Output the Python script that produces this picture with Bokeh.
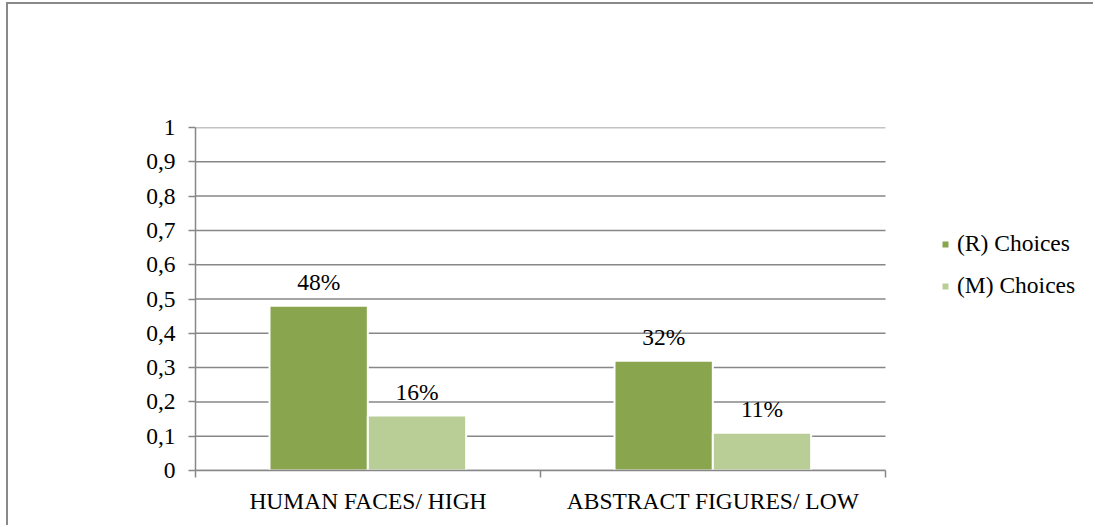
import numpy as np
from bokeh.plotting import figure
from bokeh.models import (ColumnDataSource, FixedTicker, Legend, LegendItem,
                          LabelSet, Range1d)
from bokeh.embed import file_html
from bokeh.resources import INLINE

# Data
categories = ["HUMAN FACES/ HIGH", "ABSTRACT FIGURES/ LOW"]
series_names = ["(R) Choices", "(M) Choices"]
r_choices = [0.48, 0.32]
m_choices = [0.16, 0.11]
y_ticks = [0, 0.1, 0.2, 0.3, 0.4, 0.5, 0.6, 0.7, 0.8, 0.9, 1]
y_tick_labels = ["0", "0,1", "0,2", "0,3", "0,4", "0,5", "0,6", "0,7", "0,8", "0,9", "1"]

colors = ["#89A54E", "#B9CE96"]
grid_color = "#878787"
font = "Liberation Serif, Times New Roman, serif"
fsize = "23.5px"

bar_width = 0.285
offsets = [-0.143, 0.142]
n_cat = len(categories)

# The frame runs to the right edge so the legend sits inside it;
# the category axis and the gridlines stop at the last category.
x_end = n_cat + 210 / 345

p = figure(width=1087, height=523, output_backend="svg", toolbar_location=None,
           x_range=Range1d(0, x_end), y_range=Range1d(0, 1),
           min_border_left=187, min_border_right=0,
           min_border_top=123, min_border_bottom=57,
           styles={"margin-left": "6px", "margin-top": "2px",
                   "border-left": "2px solid #898989",
                   "border-top": "2px solid #898989"})
p.outline_line_color = None
p.background_fill_color = "white"
p.border_fill_color = "white"

# Horizontal gridlines limited to the category span
p.segment(x0=[0] * len(y_ticks), x1=[n_cat] * len(y_ticks), y0=y_ticks, y1=y_ticks,
          line_color=grid_color, line_width=1.5)

centers = np.arange(n_cat) + 0.5
renderers = []
for name, vals, off, col in zip(series_names, [r_choices, m_choices], offsets, colors):
    src = ColumnDataSource(dict(
        x=centers + off,
        top=vals,
        label=[f"{round(v * 100)}%" for v in vals],
    ))
    r = p.vbar(x="x", top="top", width=bar_width, source=src,
               fill_color=col, line_color="white", line_width=2)
    renderers.append(r)
    p.add_layout(LabelSet(x="x", y="top", text="label", source=src,
                          text_align="center", text_baseline="middle",
                          y_offset=24, text_font=font, text_font_size=fsize,
                          text_color="black"))

# Y axis
p.yaxis.ticker = FixedTicker(ticks=y_ticks)
p.yaxis.major_label_overrides = {t: lab for t, lab in zip(y_ticks, y_tick_labels)}
p.yaxis.major_tick_out = 7
p.yaxis.major_tick_in = 0
p.yaxis.major_label_standoff = 13

# X axis: labels at category centers, ticks at category boundaries
p.xaxis.ticker = FixedTicker(ticks=list(centers),
                             minor_ticks=list(range(n_cat + 1)))
p.xaxis.major_label_overrides = {float(c): cat for c, cat in zip(centers, categories)}
p.xaxis.bounds = (0, n_cat)
p.xaxis.major_tick_out = 0
p.xaxis.major_tick_in = 0
p.xaxis.minor_tick_out = 7
p.xaxis.minor_tick_in = 0
p.xaxis.major_label_standoff = 10

for ax in (p.xaxis, p.yaxis):
    ax.axis_line_color = grid_color
    ax.axis_line_width = 1.5
    ax.major_tick_line_color = grid_color
    ax.major_tick_line_width = 1.5
    ax.minor_tick_line_color = grid_color
    ax.minor_tick_line_width = 1.5
    ax.major_label_text_font = font
    ax.major_label_text_font_size = fsize
    ax.major_label_text_color = "black"
p.yaxis.minor_tick_line_color = None

p.xgrid.grid_line_color = None
p.ygrid.grid_line_color = None

legend = Legend(items=[LegendItem(label=n, renderers=[r]) for n, r in zip(series_names, renderers)],
                location=(745, 171), orientation="vertical",
                glyph_width=10, glyph_height=10, label_height=27, spacing=15,
                label_standoff=7, padding=0, margin=0,
                border_line_color=None, background_fill_alpha=0,
                label_text_font=font, label_text_font_size=fsize,
                label_text_color="black")
p.add_layout(legend, "center")

open("out.html", "w").write(file_html(p, INLINE))
